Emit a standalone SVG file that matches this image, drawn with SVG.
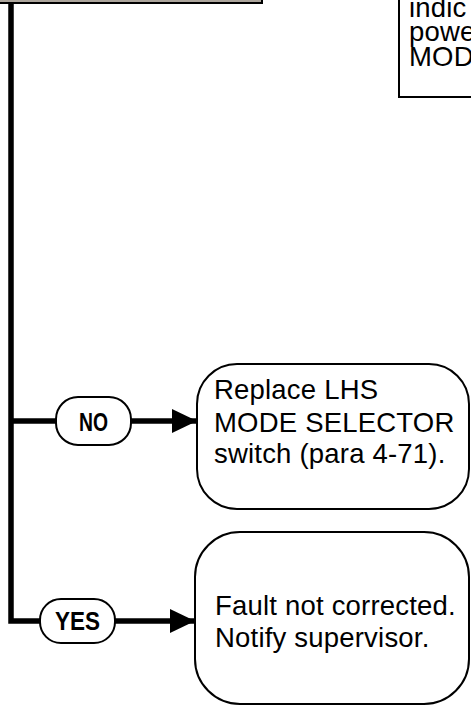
<svg xmlns="http://www.w3.org/2000/svg" width="471" height="706" viewBox="0 0 471 706">
<style>
.body{font-family:"Liberation Sans",Arial,sans-serif;font-size:27.5px;fill:#000;letter-spacing:0.2px}
.lbl{font-family:"Liberation Sans",Arial,sans-serif;font-size:25px;font-weight:bold;fill:#000;text-anchor:middle}
.box{fill:#fff;stroke:#000;stroke-width:2}
.pill{fill:#fff;stroke:#000;stroke-width:2}
.conn{fill:none;stroke:#000;stroke-width:5.5}
</style>
<defs>
<marker id="arr" viewBox="0 0 25 24" refX="25" refY="12" markerWidth="25" markerHeight="24" markerUnits="userSpaceOnUse" orient="auto">
<path d="M0,0 L25,12 L0,24 Z" fill="#000"/>
</marker>
</defs>
<rect width="471" height="706" fill="#fff"/>
<g id="top-box">
<rect x="-10" y="-30" width="272" height="33" fill="#aca59c" stroke="#000" stroke-width="2"/>
</g>
<g id="right-box">
<rect class="box" x="399" y="-30" width="100" height="127" stroke-width="1.5"/>
<text class="body" x="409" y="17">indic</text>
<text class="body" x="409" y="41">powe</text>
<text class="body" x="409" y="66">MOD</text>
</g>
<g id="connectors">
<path class="conn" d="M11 3 V621 H40"/>
<path class="conn" d="M11 421 H56"/>
<path class="conn" d="M131 421 H197" marker-end="url(#arr)"/>
<path class="conn" d="M115 621 H195" marker-end="url(#arr)"/>
</g>
<g id="no-label">
<rect class="pill" x="56" y="397" width="75" height="48" rx="22"/>
<text class="lbl" x="93.5" y="431" textLength="29" lengthAdjust="spacingAndGlyphs">NO</text>
</g>
<g id="yes-label">
<rect class="pill" x="40" y="599" width="75" height="44" rx="21"/>
<text class="lbl" x="77.5" y="630" textLength="45" lengthAdjust="spacingAndGlyphs">YES</text>
</g>
<g id="replace-box">
<rect class="box" x="197" y="364" width="272" height="145" rx="40"/>
<text class="body" x="214" y="399">Replace LHS</text>
<text class="body" x="214" y="432">MODE SELECTOR</text>
<text class="body" x="214" y="463">switch (para 4-71).</text>
</g>
<g id="fault-box">
<rect class="box" x="195" y="532" width="274" height="172" rx="45"/>
<text class="body" x="215" y="615">Fault not corrected.</text>
<text class="body" x="215" y="647">Notify supervisor.</text>
</g>
</svg>
